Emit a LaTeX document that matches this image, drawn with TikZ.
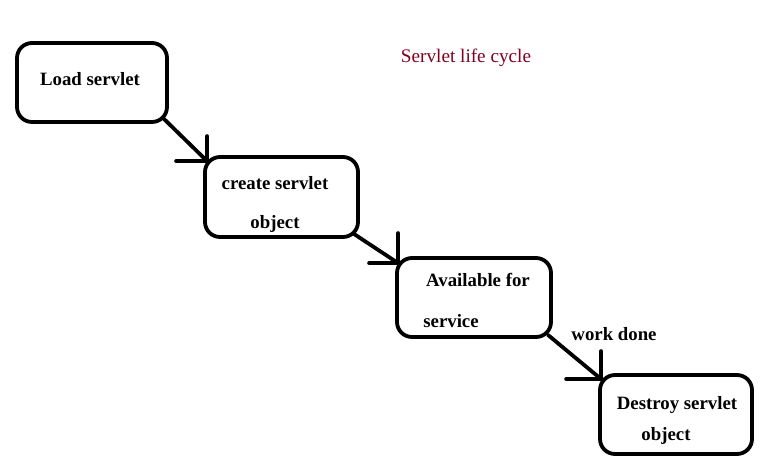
\documentclass[tikz,border=0pt]{standalone}
\usepackage{fontspec}
\setmainfont{Liberation Serif}
\begin{document}
\begin{tikzpicture}[x=1pt,y=-1pt,
  box/.style={draw,line width=3.8pt,rounded corners=15pt,inner sep=0pt},
  lbl/.style={font=\fontsize{18.8}{20}\selectfont\bfseries,inner sep=0pt,anchor=base},
  conn/.style={line width=3.8pt,line cap=round}]
\useasboundingbox (0,0) rectangle (770,468);
% boxes
\node[box,minimum width=150pt,minimum height=79pt] (b1) at (92,82.5) {};
\node[box,minimum width=153pt,minimum height=80pt] (b2) at (281.5,197) {};
\node[box,minimum width=154pt,minimum height=79pt] (b3) at (474,297.5) {};
\node[box,minimum width=152pt,minimum height=79pt] (b4) at (676,414.5) {};
% texts
\node[lbl] (t1) at (90,86) {Load servlet};
\node[lbl] (t2a) at (275,189) {create servlet};
\node[lbl] (t2b) at (275,228) {object};
\node[lbl] (t3a) at (478,286) {Available for};
\node[lbl] (t3b) at (451,327) {service};
\node[lbl] (t4a) at (677,409) {Destroy servlet};
\node[lbl] (t4b) at (666,440) {object};
\node[lbl] (wd) at (614,340) {work done};
\node[font=\fontsize{19.2}{21}\selectfont,text={rgb,255:red,128;green,0;blue,32},inner sep=0pt,anchor=base] (title) at (466,63) {Servlet life cycle};
% connectors with hand-drawn heads
\coordinate (c1) at ([shift={(4,6)}]b2.north west);
\draw[conn] ([shift={(-6,-6)}]b1.south east) -- (c1);
\draw[conn] (c1) -- ++(0,-25) (c1) -- ++(-31,0);
\coordinate (c2) at ([shift={(3,7)}]b3.north west);
\draw[conn] ([shift={(-6,-5)}]b2.south east) -- (c2);
\draw[conn] (c2) -- ++(0,-30) (c2) -- ++(-29,0);
\coordinate (c3) at ([shift={(3,6)}]b4.north west);
\draw[conn] ([shift={(-5,-4)}]b3.south east) -- (c3);
\draw[conn] (c3) -- ++(0,-28) (c3) -- ++(-35,0);
\end{tikzpicture}
\end{document}
